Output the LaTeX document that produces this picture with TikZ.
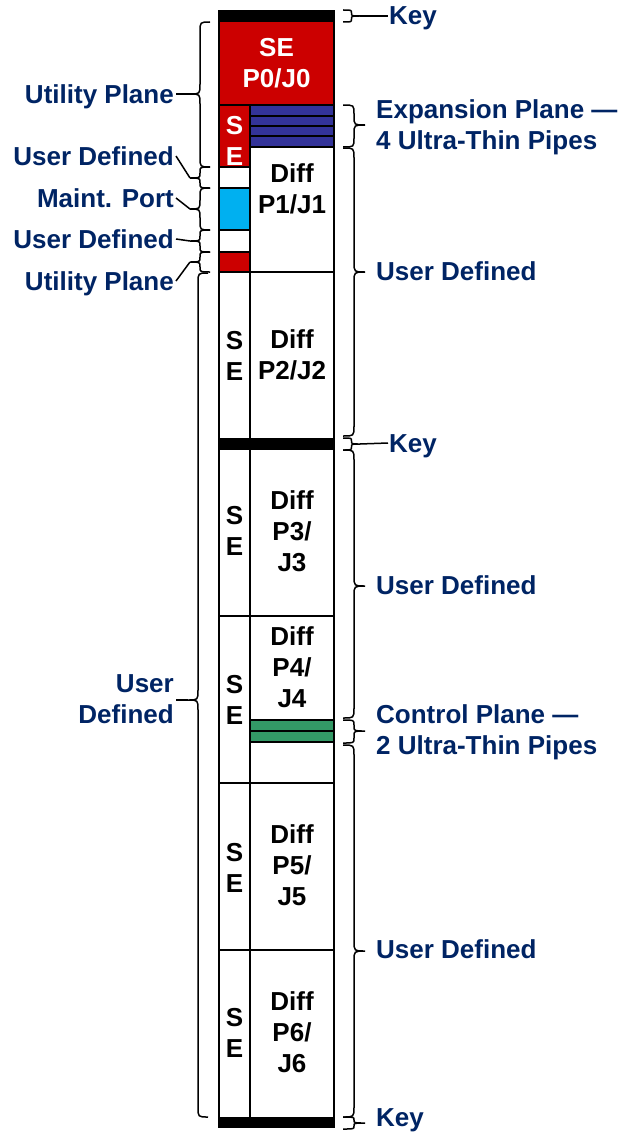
\documentclass[tikz,border=0pt]{standalone}
\usepackage{fontspec}
\setmainfont{Liberation Sans}
\definecolor{myred}{RGB}{204,0,0}
\definecolor{myblue}{RGB}{51,51,153}
\definecolor{mycyan}{RGB}{0,176,240}
\definecolor{mygreen}{RGB}{51,153,102}
\definecolor{navy}{RGB}{0,36,100}
% #1 end x, #2 mid x, #3 tip x, #4 top y, #5 tip y, #6 bottom y, #7 corner radius
\newcommand\mybrace[7]{\draw[brc] (#1,#4) .. controls (#2,#4) .. (#2,#4+#7) -- (#2,#5-#7) .. controls (#2,#5) .. (#3,#5) .. controls (#2,#5) .. (#2,#5+#7) -- (#2,#6-#7) .. controls (#2,#6) .. (#1,#6);}
\begin{document}
\begin{tikzpicture}[x=1pt,y=-1pt,
  lbl/.style={text=navy,font=\fontsize{26}{31}\selectfont\bfseries,inner sep=0pt},
  txt/.style={font=\fontsize{26}{31}\selectfont\bfseries,align=center,inner sep=0pt,anchor=base},
  brc/.style={line width=1.5pt,black},
  cell/.style={line width=2pt,black}]
\useasboundingbox (0,0) rectangle (621,1132);
% fills
\fill[black] (218,10) rectangle (335,22);
\fill[myred] (219,22) rectangle (334,105);
\fill[myred] (219,105) rectangle (250,167);
\fill[myblue] (250,105) rectangle (334,147);
\fill[mycyan] (219,188) rectangle (250,230);
\fill[myred] (219,252) rectangle (250,272);
\fill[black] (218,438) rectangle (335,450);
\fill[mygreen] (250,720) rectangle (334,742);
\fill[black] (218,1117) rectangle (335,1128);
% lines
\draw[cell] (219,22) -- (219,1117);
\draw[cell] (334,22) -- (334,1117);
\draw[cell] (250,105) -- (250,1117);
\draw[cell] (219,105) -- (334,105);
\foreach \y in {116,126,136,147} \draw[cell] (250,\y) -- (334,\y);
\foreach \y in {167,188,230,252} \draw[cell] (219,\y) -- (250,\y);
\foreach \y in {272,616,783,950} \draw[cell] (219,\y) -- (334,\y);
\foreach \y in {720,731,742} \draw[cell] (250,\y) -- (334,\y);
% box texts (anchor = baseline of the last line)
\node[txt,text=white] (p0) at (276.5,88) {SE\\P0/J0};
\node[txt,text=white] (se1) at (234.5,165) {S\\E};
\node[txt] (d1) at (292,213) {Diff\\P1/J1};
\node[txt] (se2) at (234.5,380) {S\\E};
\node[txt] (d2) at (292,379) {Diff\\P2/J2};
\node[txt] (se3) at (234.5,555) {S\\E};
\node[txt] (d3) at (292,571) {Diff\\P3/\\J3};
\node[txt] (se4) at (234.5,724) {S\\E};
\node[txt] (d4) at (292,707) {Diff\\P4/\\J4};
\node[txt] (se5) at (234.5,892) {S\\E};
\node[txt] (d5) at (292,905) {Diff\\P5/\\J5};
\node[txt] (se6) at (234.5,1057) {S\\E};
\node[txt] (d6) at (292,1072) {Diff\\P6/\\J6};
% right braces
\mybrace{343}{351.5}{360}{10}{16}{22}{3}
\mybrace{343}{354}{365}{105}{125}{147}{9}
\mybrace{343}{354}{365}{148}{272}{436}{10}
\mybrace{343}{351.5}{360}{438}{444}{450}{3}
\mybrace{343}{354}{365}{450}{586}{718}{10}
\mybrace{343}{354}{365}{720}{731}{743}{5}
\mybrace{343}{354}{365}{745}{951}{1117}{10}
\mybrace{343}{354}{365}{1117}{1123}{1129}{3}
\coordinate (tk1) at (360,16);
\coordinate (tk2) at (360,444);
% right labels
\node[lbl,anchor=base west] (k1) at (389,25) {Key};
\node[lbl,anchor=base west] (k2) at (389,452) {Key};
\node[lbl,anchor=base west] (k3) at (376,1126) {Key};
\node[lbl,anchor=base west,align=left] (exp) at (376,149) {Expansion Plane —\\4 Ultra-Thin Pipes};
\node[lbl,anchor=base west] (ur1) at (376,280) {User Defined};
\node[lbl,anchor=base west] (ur2) at (376,594) {User Defined};
\node[lbl,anchor=base west,align=left] (ctl) at (376,754) {Control Plane —\\2 Ultra-Thin Pipes};
\node[lbl,anchor=base west] (ur3) at (376,958) {User Defined};
\draw[brc] (tk1) -- ([xshift=-1pt,yshift=9pt]k1.base west);
\draw[brc] (tk2) -- ([xshift=-1pt,yshift=9pt]k2.base west);
% left braces (tip pointing left)
\mybrace{210}{200}{190}{22}{94}{167}{10}
\mybrace{210}{200}{190}{167}{178}{188}{5}
\mybrace{210}{200}{190}{188}{209}{230}{9}
\mybrace{210}{200}{190}{230}{241}{252}{5}
\mybrace{210}{200}{190}{252}{262}{272}{5}
\mybrace{208}{198}{188}{273}{700}{1117}{10}
\coordinate (tl1) at (190,94);
\coordinate (tl2) at (190,178);
\coordinate (tl3) at (190,209);
\coordinate (tl4) at (190,241);
\coordinate (tl5) at (190,262);
\coordinate (tl6) at (188,700);
% left labels
\node[lbl,anchor=base east] (ul1) at (174,103) {Utility Plane};
\node[lbl,anchor=base east] (ud1) at (174,165) {User Defined};
\node[lbl,anchor=base east] (mp) at (174,207) {Maint. Port};
\node[lbl,anchor=base east] (ud2) at (174,248) {User Defined};
\node[lbl,anchor=base east] (ul2) at (174,290) {Utility Plane};
\node[lbl,anchor=base east,align=right] (ud3) at (174,723) {User\\Defined};
\draw[brc] (tl1) -- ([xshift=2pt,yshift=9pt]ul1.base east);
\draw[brc] (tl2) -- ([xshift=2pt,yshift=9pt]ud1.base east);
\draw[brc] (tl3) -- ([xshift=2pt,yshift=9pt]mp.base east);
\draw[brc] (tl4) -- ([xshift=2pt,yshift=9pt]ud2.base east);
\draw[brc] (tl5) -- ([xshift=2pt,yshift=9pt]ul2.base east);
\draw[brc] (tl6) -- ([xshift=2pt,yshift=23pt]ud3.base east);
\end{tikzpicture}
\end{document}
